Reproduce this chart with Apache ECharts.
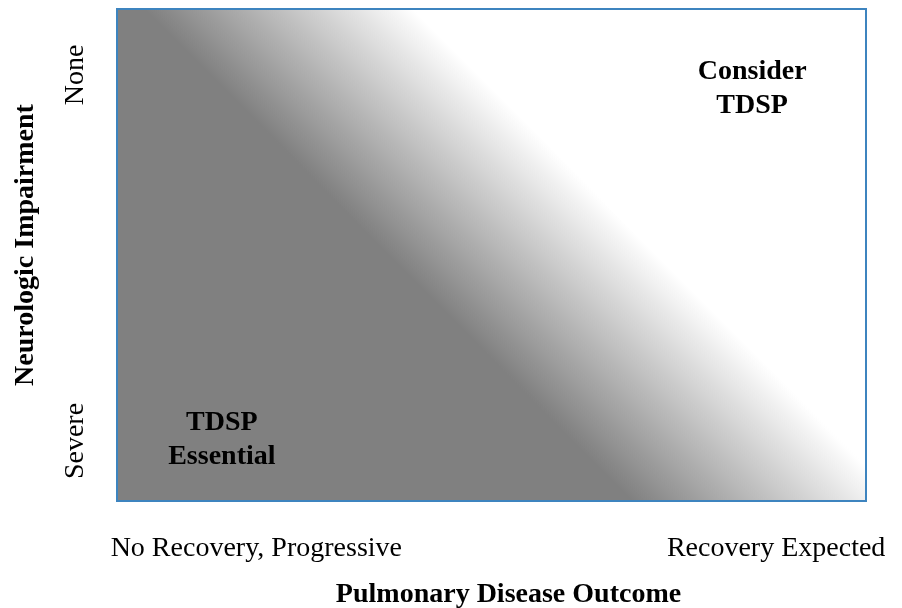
<!DOCTYPE html>
<html>
<head>
<meta charset="utf-8">
<script src="https://cdn.jsdelivr.net/npm/echarts@6/dist/echarts.min.js"></script>
<style>html,body{margin:0;padding:0;background:#fff}#c{width:902px;height:608px}</style>
</head>
<body>
<div id="c"></div>
<script>
// Axis tick positions (0-100 scale) and their labels
var xTickValues = [18.6, 88.0];
var xTickLabels = ['No Recovery, Progressive', 'Recovery Expected'];
var yTickValues = [12.2, 86.6];
var yTickLabels = ['Severe', 'None'];
// Annotation positions and texts
var noteX = [84.8, 14.0];
var noteY = [83.8, 12.4];
var noteText = ['Consider\nTDSP', 'TDSP\nEssential'];

var FONT = 'Liberation Serif';
var chart = echarts.init(document.getElementById('c'));

var notes = noteX.map(function (x, i) { return [x, noteY[i], noteText[i]]; });

chart.setOption({
  animation: false,
  grid: {
    left: 117, top: 9, width: 749, height: 492,
    outerBoundsMode: 'none',
    containLabel: false,
    show: true,
    borderColor: '#3d84bf',
    borderWidth: 2,
    backgroundColor: new echarts.graphic.LinearGradient(0.3565, 0.4898, 0.5367, 0.2183, [
      { offset: 0, color: '#808080' },
      { offset: 1, color: '#ffffff' }
    ])
  },
  xAxis: {
    type: 'value', min: 0, max: 100,
    name: 'Pulmonary Disease Outcome',
    nameLocation: 'middle', nameGap: 80,
    nameTextStyle: { fontFamily: FONT, fontSize: 28, fontWeight: 'bold', color: '#000', padding: [0, 0, 0, 34] },
    axisLine: { show: false }, axisTick: { show: false }, splitLine: { show: false },
    axisLabel: {
      customValues: xTickValues,
      formatter: function (v) { var i = xTickValues.indexOf(v); return i >= 0 ? xTickLabels[i] : ''; },
      fontFamily: FONT, fontSize: 28, color: '#000', margin: 34
    }
  },
  yAxis: {
    type: 'value', min: 0, max: 100,
    name: 'Neurologic Impairment',
    nameLocation: 'middle', nameGap: 77,
    nameTextStyle: { fontFamily: FONT, fontSize: 28, fontWeight: 'bold', color: '#000', padding: [0, 0, 0, 20] },
    axisLine: { show: false }, axisTick: { show: false }, splitLine: { show: false },
    axisLabel: {
      customValues: yTickValues,
      rotate: 90,
      formatter: function (v) { var i = yTickValues.indexOf(v); return i >= 0 ? yTickLabels[i] : ''; },
      fontFamily: FONT, fontSize: 28, color: '#000', margin: 27
    }
  },
  series: [{
    type: 'scatter',
    data: notes,
    symbolSize: 0,
    silent: true,
    itemStyle: { opacity: 1 },
    label: {
      show: true, position: 'inside',
      formatter: function (p) { return p.data[2]; },
      fontFamily: FONT, fontSize: 28, fontWeight: 'bold', color: '#000', opacity: 1,
      lineHeight: 34, align: 'center', verticalAlign: 'middle'
    }
  }]
});
</script>
</body>
</html>
